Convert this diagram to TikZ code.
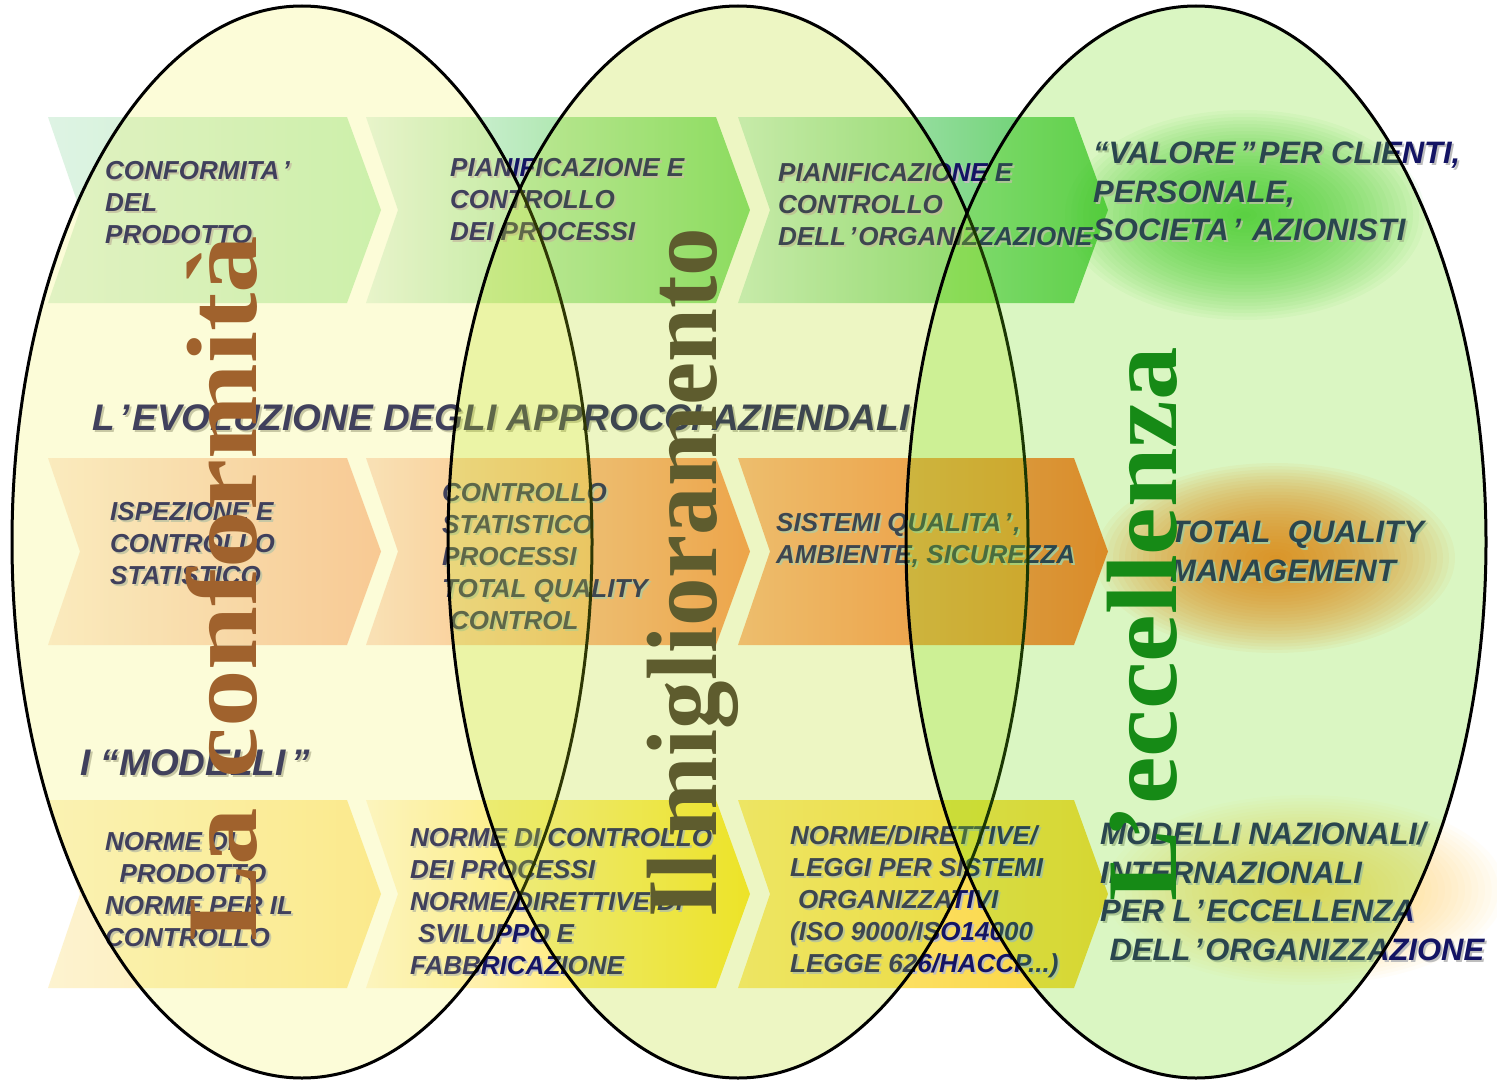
\documentclass[tikz,border=0pt]{standalone}
\usepackage{fontspec}
\setmainfont{Liberation Serif}
\setsansfont{Liberation Sans}
\usepackage{graphicx}

% text colours
\definecolor{txtc}{RGB}{20,20,100}
\definecolor{shdc}{RGB}{190,190,190}
\definecolor{brownc}{RGB}{160,98,45}
\definecolor{olivec}{RGB}{94,92,46}
\definecolor{greenc}{RGB}{22,138,22}
% ellipse fills
\definecolor{ellA}{RGB}{240,240,60}
\definecolor{ellB}{RGB}{187,223,19}
\definecolor{ellC}{RGB}{111,223,15}
% chevron gradients, row 1 (green)
\definecolor{gAl}{RGB}{222,243,228}\definecolor{gAr}{RGB}{196,240,198}
\definecolor{gBl}{RGB}{230,245,238}\definecolor{gBm}{RGB}{178,228,200}\definecolor{gBr}{RGB}{124,219,120}
\definecolor{gCl}{RGB}{204,239,220}\definecolor{gCm}{RGB}{155,216,180}\definecolor{gCr}{RGB}{88,203,91}
% row 2 (orange)
\definecolor{oAl}{RGB}{253,234,222}\definecolor{oAr}{RGB}{250,192,170}
\definecolor{oBl}{RGB}{252,222,212}\definecolor{oBr}{RGB}{255,146,93}
\definecolor{oCl}{RGB}{255,179,140}\definecolor{oCr}{RGB}{255,112,51}
% row 3 (yellow)
\definecolor{yAl}{RGB}{253,243,208}\definecolor{yAr}{RGB}{254,232,160}
\definecolor{yBl}{RGB}{255,245,222}\definecolor{yBr}{RGB}{255,229,47}
\definecolor{yCl}{RGB}{255,232,127}\definecolor{yCr}{RGB}{249,212,61}
% soft glows
\definecolor{glowG}{RGB}{50,200,50}
\definecolor{glowO}{RGB}{255,105,15}
\definecolor{glowY}{RGB}{255,205,50}

\newcommand\apos{\kern.12em’\kern.08em}
% chevron: left x, right x, top y, bottom y, fill options
\newcommand\chevron[5]{%
  \path[#5] (#1,#3) -- (#2,#3) -- ({#2+34},{(#3+#4)/2}) -- (#2,#4) -- (#1,#4)
    -- ({#1+32},{(#3+#4)/2}) -- cycle;}
% text with a light drop shadow: name, x, y, style, text
\newcommand\shadowtext[5]{%
  \node[#4, text=shdc] (#1-sh) at ({#2+2},{#3+2}) {#5};
  \node[#4] (#1) at (#2,#3) {#5};}
% soft glow built from stacked translucent ellipses: colour, x, y, rx, ry, layer opacity
\newcommand\softglow[6]{%
  \foreach \k [evaluate=\k as \rx using #4*\k/30,
               evaluate=\k as \ry using #5*\k/30] in {1,...,30}
    {\fill[#1, fill opacity=#6] (#2,#3) ellipse [x radius=\rx pt, y radius=\ry pt];}}

\tikzset{
  body/.style={font=\sffamily\bfseries\itshape\fontsize{26}{32}\selectfont,
    text=txtc, align=left, anchor=north west, inner sep=0pt},
  bigbody/.style={body, font=\sffamily\bfseries\itshape\fontsize{31}{38.5}\selectfont},
  head/.style={body, font=\sffamily\bfseries\itshape\fontsize{37}{44}\selectfont},
  vert/.style={rotate=90, anchor=base west, inner sep=0pt,
    font=\rmfamily\bfseries\fontsize{100}{100}\selectfont},
  ring/.style={draw=black, line width=3pt},
}

\begin{document}
\begin{tikzpicture}[x=1pt,y=-1pt]
\useasboundingbox (0,0) rectangle (1497,1081);
\fill[white] (0,0) rectangle (1497,1081);

% three rows of chevrons
\chevron{48}{347}{117}{303}{left color=gAl, right color=gAr}
\chevron{366}{716}{117}{303}{left color=gBl, middle color=gBm, right color=gBr}
\chevron{738}{1074}{117}{303}{left color=gCl, middle color=gCm, right color=gCr}
\chevron{48}{347}{458}{645}{left color=oAl, right color=oAr}
\chevron{366}{716}{458}{645}{left color=oBl, right color=oBr}
\chevron{738}{1074}{458}{645}{left color=oCl, right color=oCr}
\chevron{48}{347}{800}{988}{left color=yAl, right color=yAr}
\chevron{366}{716}{800}{988}{left color=yBl, right color=yBr}
\chevron{738}{1074}{800}{988}{left color=yCl, right color=yCr}

% glows behind the last column
\softglow{glowG}{1245}{215}{180}{105}{0.05}
\softglow{glowO}{1275}{558}{180}{95}{0.055}
\softglow{glowY}{1305}{890}{200}{95}{0.03}

% headings
\shadowtext{evol}{92}{404}{head}{L\apos EVOLUZIONE DEGLI APPROCCI AZIENDALI}
\shadowtext{modelli}{80}{749}{head}{I “MODELLI\kern.15em”}

% row 1
\shadowtext{t11}{105}{161}{body}{CONFORMITA\apos\\DEL\\PRODOTTO}
\shadowtext{t12}{450}{158}{body}{PIANIFICAZIONE E\\CONTROLLO\\DEI PROCESSI}
\shadowtext{t13}{778}{163}{body}{PIANIFICAZIONE E\\CONTROLLO\\DELL\apos ORGANIZZAZIONE}
\shadowtext{t14}{1093}{142}{bigbody}{“VALORE\kern.15em”\kern.1em PER CLIENTI,\\PERSONALE,\\SOCIETA\apos\ AZIONISTI}
% row 2
\shadowtext{t21}{110}{502}{body}{ISPEZIONE E\\CONTROLLO\\STATISTICO}
\shadowtext{t22}{442}{483}{body}{CONTROLLO\\STATISTICO\\PROCESSI\\TOTAL QUALITY\\\hspace*{.3em}CONTROL}
\shadowtext{t23}{776}{513}{body}{SISTEMI QUALITA\apos,\\AMBIENTE, SICUREZZA}
\shadowtext{t24}{1170}{521}{bigbody}{TOTAL\ \ QUALITY\\MANAGEMENT}
% row 3
\shadowtext{t31}{105}{832}{body}{NORME DI\\\hspace*{.55em}PRODOTTO\\NORME PER IL\\CONTROLLO}
\shadowtext{t32}{410}{828}{body}{NORME DI CONTROLLO\\DEI PROCESSI\\NORME/DIRETTIVE DI\\\hspace*{.3em}SVILUPPO E\\FABBRICAZIONE}
\shadowtext{t33}{790}{825}{body}{NORME/DIRETTIVE/\\LEGGI PER SISTEMI\\\hspace*{.3em}ORGANIZZATIVI\\(ISO 9000/ISO14000\\LEGGE 626/HACCP...)}
\shadowtext{t34}{1100}{822}{bigbody}{MODELLI NAZIONALI/\\INTERNAZIONALI\\PER L\apos ECCELLENZA\\\hspace*{.3em}DELL\apos ORGANIZZAZIONE}

% the three overlapping ellipses
\path[ring, fill=ellA, fill opacity=.2] (302,542) ellipse [x radius=290pt, y radius=536pt];
\path[ring, fill=ellB, fill opacity=.25] (738,542) ellipse [x radius=290pt, y radius=536pt];
\path[ring, fill=ellC, fill opacity=.25] (1196,542) ellipse [x radius=290pt, y radius=536pt];

% vertical titles
\node[vert, text=brownc] (conf) at (256,942) {\scalebox{1.15}[1]{La conformità}};
\node[vert, text=olivec] (migl) at (716,918) {\scalebox{0.97}[1]{Il\,miglioramento}};
\node[vert, text=greenc] (ecc) at (1176,902) {\scalebox{1.07}[1]{L’eccellenza}};
\end{tikzpicture}
\end{document}
